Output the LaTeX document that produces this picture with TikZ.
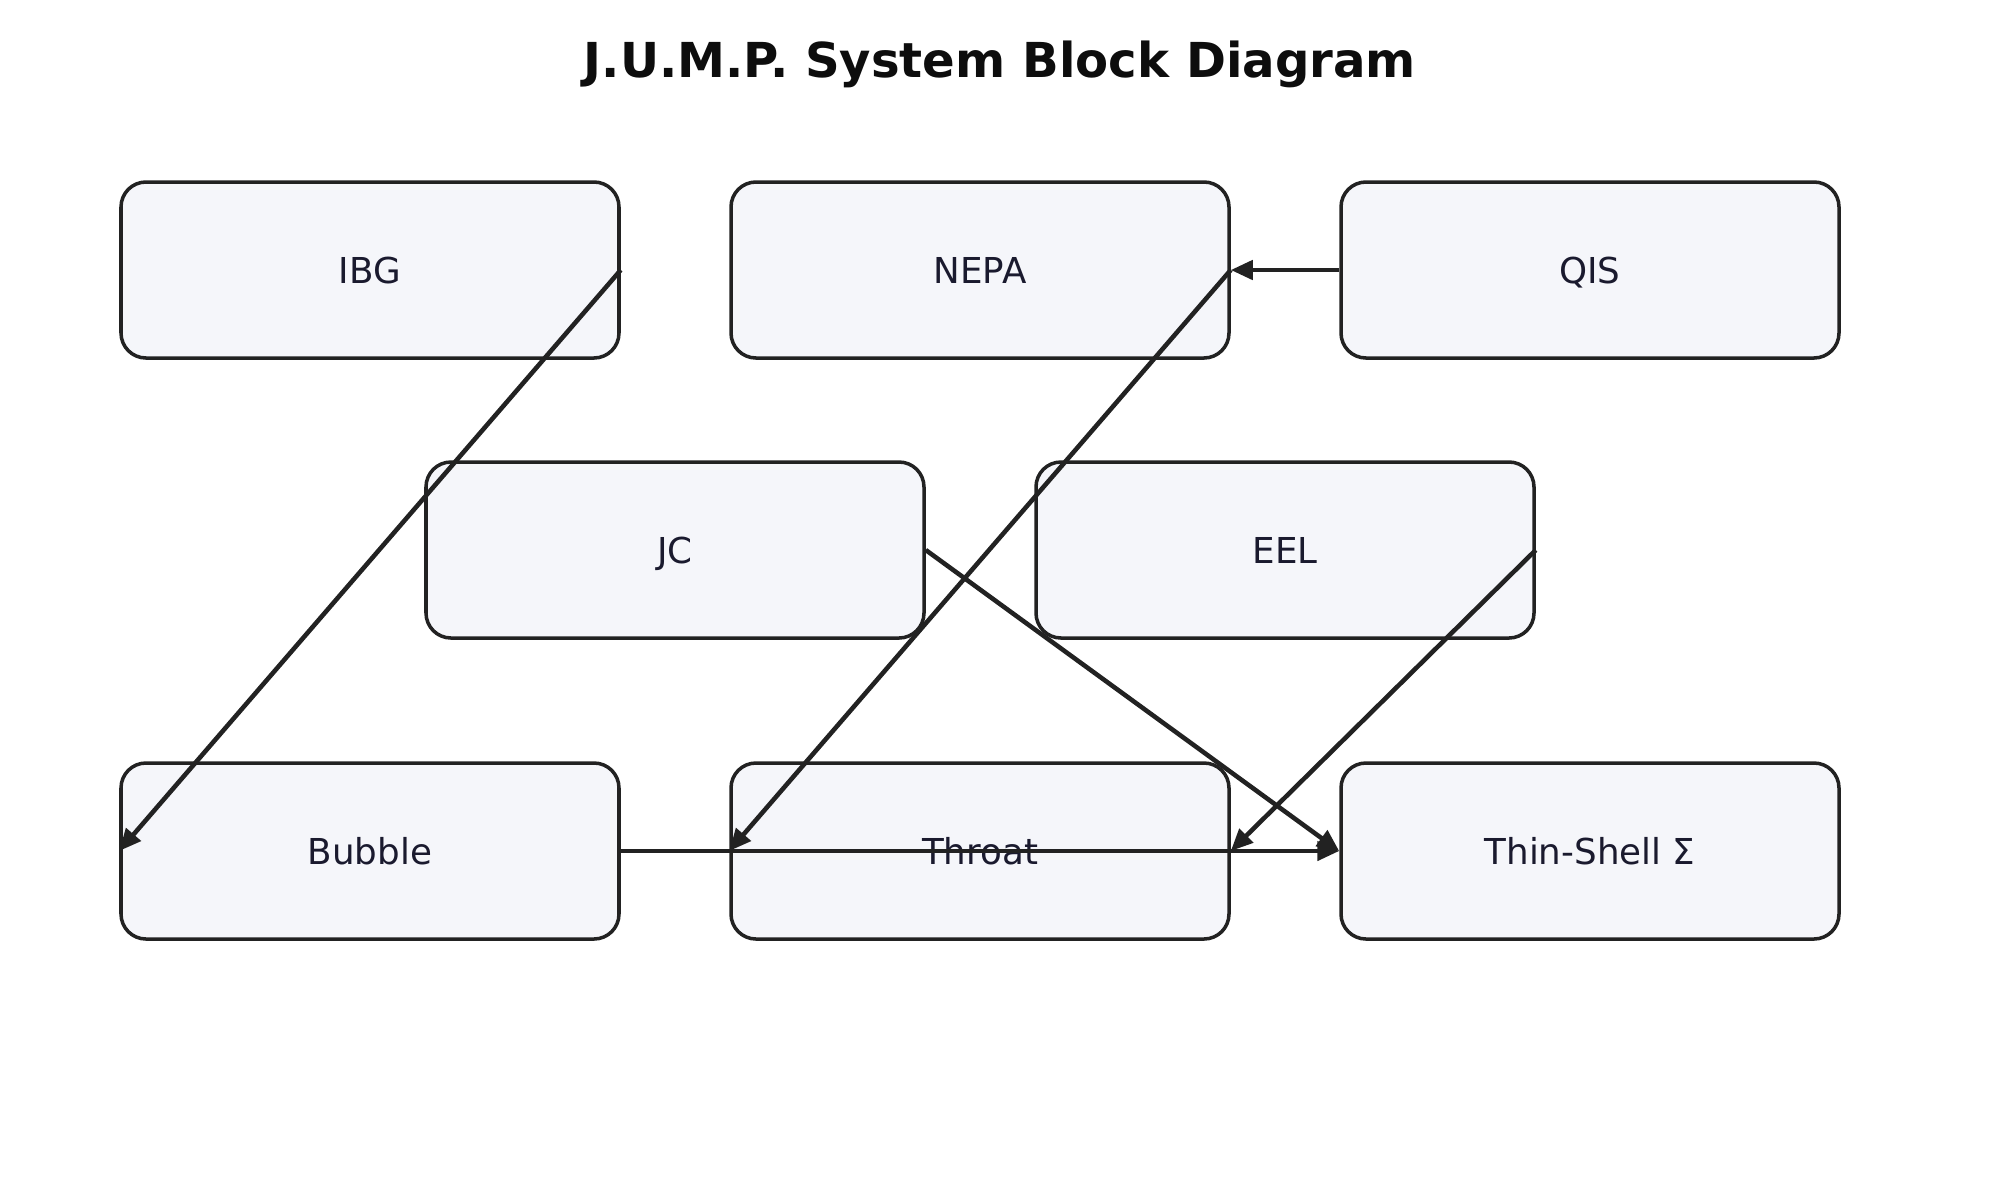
\documentclass[tikz,border=0pt]{standalone}
\usepackage{fontspec}
\setmainfont{DejaVu Sans}
\usetikzlibrary{arrows.meta}

\definecolor{boxfill}{HTML}{F5F6FA}
\definecolor{boxline}{HTML}{222222}
\definecolor{boxtext}{HTML}{1A1A2E}

\begin{document}
\begin{tikzpicture}
	[block/.style={draw=boxline, line width=1pt, fill=boxfill, rounded corners=2.5mm,
		minimum width=4.98cm, minimum height=1.76cm, text=boxtext, text height=0.75em, text depth=0pt,
		font=\fontsize{10.15pt}{12pt}\selectfont},
	link/.style={-{Triangle[length=2.2mm,width=1.9mm]}, line width=1.3pt, draw=boxline}]
	\useasboundingbox (0,0) rectangle (20,-12);

	%title
	\node (title) [font=\fontsize{13.7pt}{16pt}\selectfont\bfseries, text=black!95] at (10,-0.64) {J.U.M.P. System Block Diagram};

	%top row
	\node (ibg) [block] at (3.7,-2.7) {IBG};
	\node (nepa) [block] at (9.8,-2.7) {NEPA};
	\node (qis) [block] at (15.9,-2.7) {QIS};
	%middle row
	\node (jc) [block] at (6.75,-5.5) {JC};
	\node (eel) [block] at (12.85,-5.5) {EEL};
	%bottom row
	\node (bubble) [block] at (3.7,-8.51) {Bubble};
	\node (throat) [block] at (9.8,-8.51) {Throat};
	\node (shell) [block] at (15.9,-8.51) {Thin-Shell Σ};

	%arrows
	\draw[link] (ibg.east) -- (bubble.west);
	\draw[link] (qis.west) -- (nepa.east);
	\draw[link] (nepa.east) -- (throat.west);
	\draw[link] (jc.east) -- (shell.west);
	\draw[link] (eel.east) -- (throat.east);
	\draw[link] (bubble.east) -- (shell.west);
\end{tikzpicture}
\end{document}
